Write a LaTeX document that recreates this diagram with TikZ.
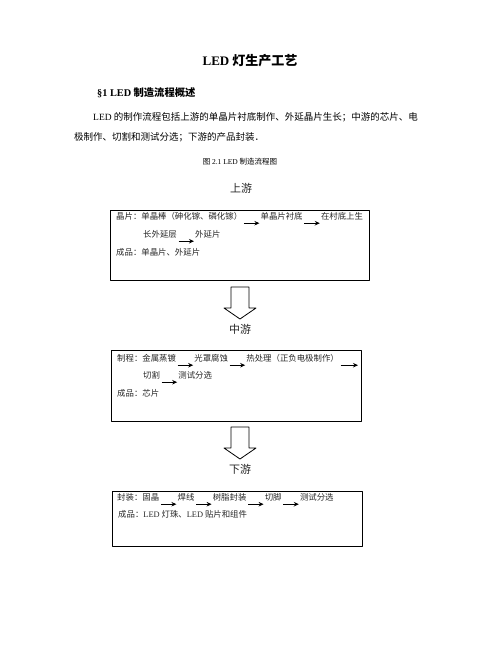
\documentclass[tikz,border=0pt]{standalone}
\usepackage{fontspec}
\setmainfont{Noto Sans CJK SC}
\newfontfamily\lat{Liberation Serif}
\usetikzlibrary{positioning,arrows.meta}
\begin{document}
\begin{tikzpicture}[x=1pt,y=-1pt,line join=round,>={Stealth[length=5pt,width=4.5pt]},
  txt/.style={inner sep=0pt,anchor=west,font=\fontsize{8.4}{10}\selectfont,text=black!85,text height=0.88em,text depth=0.12em},
  nxt/.style={txt,right=18pt of #1},
  flow/.style={->,line width=1pt},
  box/.style={draw,line width=0.9pt,inner sep=0pt,anchor=north west},
  stage/.style={font=\fontsize{11}{13}\selectfont,inner sep=0pt,text=black!85},
  para/.style={inner sep=0pt,anchor=west,font=\fontsize{9.5}{11}\selectfont}]
\useasboundingbox (0,0) rectangle (502,649);
\node[font=\bfseries\fontsize{13}{15}\selectfont] (title) at (250,61) {{\lat LED} 灯生产工艺};
\node[para,font=\bfseries\fontsize{10.3}{12}\selectfont] (sec) at (97,93) {{\lat §1 LED} 制造流程概述};
\node[para] (p1) at (93,117) {{\lat LED} 的制作流程包括上游的单晶片衬底制作、外延晶片生长；中游的芯片、电};
\node[para] (p2) at (74,137) {极制作、切割和测试分选；下游的产品封装．};
\node[font=\fontsize{7.5}{9}\selectfont,inner sep=0pt] (cap) at (240,162) {图 {\lat 2.1 LED} 制造流程图};
\node[stage] (up) at (241,188) {上游};
\node[stage] (mid) at (240,329) {中游};
\node[stage] (down) at (240,469) {下游};
\node[box,minimum width=259pt,minimum height=70pt] (upbox) at (110,210) {};
\node[box,minimum width=250pt,minimum height=71pt] (midbox) at (111,350) {};
\node[box,minimum width=250pt,minimum height=55pt] (downbox) at (112,491) {};
\foreach \t in {287,427}
  \draw[line width=0.8pt] (231,\t) -- (249,\t) -- (249,\t+21) -- (256,\t+21) -- (240,\t+32) -- (224,\t+21) -- (231,\t+21) -- cycle;
\node[txt] (a1) at (116,216) {晶片：单晶棒（砷化镓、磷化镓）};
\node[nxt=a1] (a2) {单晶片衬底};
\node[nxt=a2] (a3) {在村底上生};
\node[txt] (a4) at (143,234) {长外延层};
\node[nxt=a4] (a5) {外延片};
\node[txt] (a6) at (116,252) {成品：单晶片、外延片};
\node[txt] (b1) at (117,358) {制程：金属蒸镀};
\node[nxt=b1] (b2) {光罩腐蚀};
\node[nxt=b2] (b3) {热处理（正负电极制作）};
\coordinate[right=19pt of b3.south east] (b3e);
\node[txt] (b4) at (143,375) {切割};
\node[nxt=b4] (b5) {测试分选};
\node[txt] (b6) at (117,393) {成品：芯片};
\node[txt] (c1) at (117,497) {封装：固晶};
\node[nxt=c1] (c2) {焊线};
\node[nxt=c2] (c3) {树脂封装};
\node[nxt=c3] (c4) {切脚};
\node[nxt=c4] (c5) {测试分选};
\node[txt] (c6) at (118,514) {成品：{\lat LED} 灯珠、{\lat LED} 贴片和组件};
\foreach \s/\e in {a1/a2,a2/a3,a4/a5,b1/b2,b2/b3,b4/b5,c1/c2,c2/c3,c3/c4,c4/c5}
  \draw[flow] ([shift={(1.5pt,-2pt)}]\s.south east) -- ([shift={(-1pt,-2pt)}]\e.south west);
\draw[flow] ([shift={(1.5pt,-2pt)}]b3.south east) -- ([yshift=-2pt]b3e);
\end{tikzpicture}
\end{document}
